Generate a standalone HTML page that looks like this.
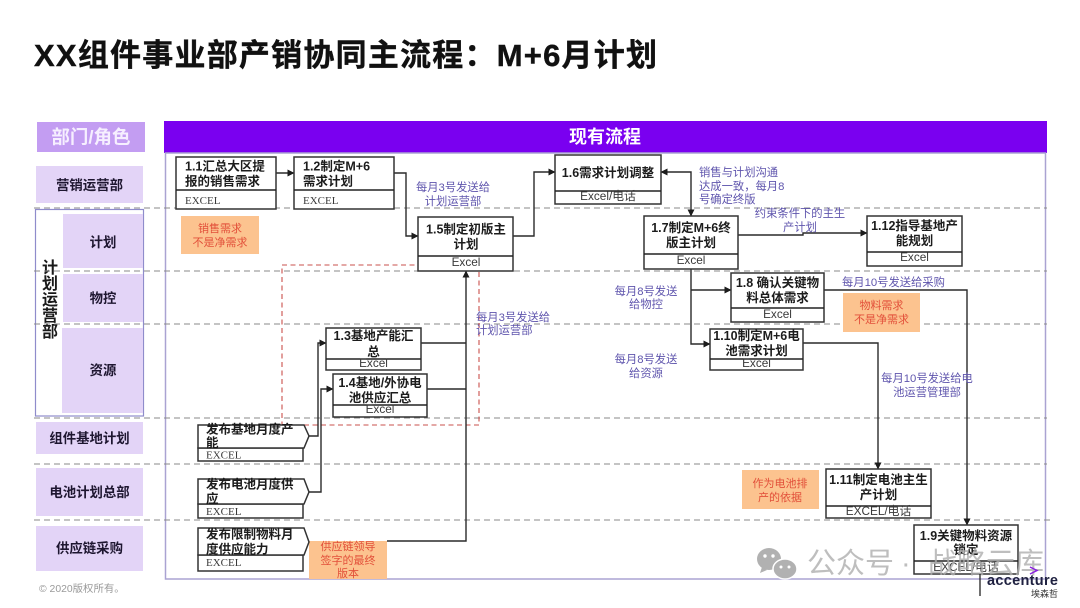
<!DOCTYPE html>
<html lang="zh"><head><meta charset="utf-8"><title>XX组件事业部产销协同主流程</title>
<style>
html,body{margin:0;padding:0;background:#fff;width:1080px;height:608px;overflow:hidden}
svg{display:block;filter:blur(.3px)}
text{font-family:"Liberation Sans","Noto Sans CJK SC",sans-serif}
.t{font-size:12.5px;font-weight:700;fill:#1c1c1c;text-anchor:middle}
.l{font-size:12.5px;font-weight:700;fill:#1c1c1c}
.e{font-size:11.8px;fill:#3a3a3a;text-anchor:middle}
.s{font-size:11px;fill:#3a3a3a;font-family:"Liberation Serif","Noto Sans CJK SC",serif}
.a{font-size:11.3px;fill:#5f55ad;text-anchor:middle}
.al{font-size:11.3px;fill:#5f55ad}
.r{font-size:11px;fill:#e2503a;text-anchor:middle}
.d{font-size:13.4px;font-weight:700;fill:#1e1630;text-anchor:middle}
.b{fill:#fff;stroke:#333;stroke-width:1.5}
.dv{stroke:#222;stroke-width:1.5}
.c{fill:none;stroke:#2a2a2a;stroke-width:1.4}
.dash{stroke:#8a8a8a;stroke-width:1;stroke-dasharray:6 4}
.n{fill:#fcc38f}
.p{fill:#e3d4f7}
.w{font-size:29px;fill:#aeaeae}
</style></head><body>
<svg width="1080" height="608" viewBox="0 0 1080 608" xmlns="http://www.w3.org/2000/svg">
<defs><marker id="m" markerWidth="8" markerHeight="8" refX="6.5" refY="3.5" orient="auto-start-reverse" markerUnits="userSpaceOnUse"><path d="M0 0L7 3.500L0 7z" fill="#1c1c1c"/></marker></defs>

<text x="34" y="66" font-size="31" font-weight="700" fill="#111" stroke="#111" stroke-width=".4" textLength="623" lengthAdjust="spacing">XX组件事业部产销协同主流程：M+6月计划</text>

<!-- headers -->
<rect x="37" y="122" width="108" height="30" fill="#c39df2"/>
<text x="91" y="143.500" font-size="18.500" font-weight="700" fill="#f6efff" text-anchor="middle">部门/角色</text>
<rect x="164" y="121" width="883" height="32" fill="#7a00f0"/>
<text x="605" y="143" font-size="18" font-weight="700" fill="#fff" text-anchor="middle">现有流程</text>

<!-- main frame -->
<rect x="165.500" y="153" width="880" height="426" fill="none" stroke="#aaa3d2" stroke-width="1.500"/>

<!-- dept -->
<rect x="36" y="166" width="107" height="37" class="p"/>
<rect x="35.500" y="209.500" width="108" height="206.500" fill="none" stroke="#8f8ccb" stroke-width="1.200"/>
<rect x="63" y="214" width="80" height="54" class="p"/>
<rect x="63" y="274" width="80" height="48" class="p"/>
<rect x="62" y="328" width="81" height="85" class="p"/>
<rect x="36" y="422" width="107" height="32" class="p"/>
<rect x="36" y="468" width="107" height="48" class="p"/>
<rect x="36" y="526" width="107" height="45" class="p"/>
<text class="d" x="89.500" y="190">营销运营部</text>
<text class="d" x="103" y="247">计划</text>
<text class="d" x="103" y="303">物控</text>
<text class="d" x="103" y="375">资源</text>
<text class="d" x="89.500" y="443">组件基地计划</text>
<text class="d" x="89.500" y="497">电池计划总部</text>
<text class="d" x="89.500" y="553">供应链采购</text>
<g font-size="16" font-weight="700" fill="#1a1a1a" text-anchor="middle">
<text x="50" y="273">计</text><text x="50" y="289">划</text><text x="50" y="305">运</text><text x="50" y="321">营</text><text x="50" y="337">部</text>
</g>

<!-- dashed lanes -->
<line class="dash" x1="34" x2="1047" y1="208" y2="208"/>
<line class="dash" x1="34" x2="1047" y1="271" y2="271"/>
<line class="dash" x1="34" x2="1047" y1="324" y2="324"/>
<line class="dash" x1="34" x2="1047" y1="418" y2="418"/>
<line class="dash" x1="34" x2="1047" y1="464" y2="464"/>
<line class="dash" x1="34" x2="1050" y1="520" y2="520"/>

<!-- red dashed -->
<rect x="282" y="265" width="197" height="160" fill="none" stroke="#c9504c" stroke-width="1.100" stroke-dasharray="5 3.500"/>

<!-- orange notes -->
<rect class="n" x="181" y="216" width="78" height="38"/>
<rect class="n" x="843" y="293" width="77" height="39"/>
<rect class="n" x="742" y="470" width="77" height="39"/>
<rect class="n" x="309" y="541" width="78" height="38"/>
<text class="r" x="220" y="232">销售需求</text><text class="r" x="220" y="246">不是净需求</text>
<text class="r" x="881.500" y="309">物料需求</text><text class="r" x="881.500" y="323">不是净需求</text>
<text class="r" x="780" y="487">作为电池排</text><text class="r" x="780" y="501">产的依据</text>
<text class="r" x="348" y="550">供应链领导</text><text class="r" x="348" y="564">签字的最终</text><text class="r" x="348" y="577">版本</text>

<!-- connectors -->
<path class="c" d="M276 173H294" marker-end="url(#m)"/>
<path class="c" d="M394 173H406V236H418" marker-end="url(#m)"/>
<path class="c" d="M513 236H534V172H555" marker-end="url(#m)"/>
<path class="c" d="M661 172H691V216" marker-start="url(#m)" marker-end="url(#m)"/>
<path class="c" d="M738 235H803V233H867" marker-end="url(#m)"/>
<path class="c" d="M691 269V344H710" marker-end="url(#m)"/>
<path class="c" d="M691 290H731" marker-end="url(#m)"/>
<path class="c" d="M824 290H967V525" marker-end="url(#m)"/>
<path class="c" d="M803 343H878V469" marker-end="url(#m)"/>
<path class="c" d="M421 343H466"/>
<path class="c" d="M427 389H466"/>
<path class="c" d="M387 541H466V271" marker-end="url(#m)"/>
<path class="c" d="M309 436H318V343H326" marker-end="url(#m)"/>
<path class="c" d="M309 492H321V389H333" marker-end="url(#m)"/>

<!-- boxes -->
<rect class="b" x="176" y="157" width="100" height="52"/><line class="dv" x1="176" x2="276" y1="190" y2="190"/>
<text class="l" x="185" y="170.500">1.1汇总大区提</text><text class="l" x="185" y="185.500">报的销售需求</text><text class="s" x="185" y="204">EXCEL</text>

<rect class="b" x="294" y="157" width="100" height="52"/><line class="dv" x1="294" x2="394" y1="190" y2="190"/>
<text class="l" x="303" y="170.500">1.2制定M+6</text><text class="l" x="303" y="185.500">需求计划</text><text class="s" x="303" y="204">EXCEL</text>

<rect class="b" x="418" y="217" width="95" height="54"/><line class="dv" x1="418" x2="513" y1="256" y2="256"/>
<text class="t" x="466" y="233.500">1.5制定初版主</text><text class="t" x="466" y="248.500">计划</text><text class="e" x="466" y="266">Excel</text>

<rect class="b" x="555" y="155" width="106" height="49"/><line class="dv" x1="555" x2="661" y1="191" y2="191"/>
<text class="t" x="608" y="177">1.6需求计划调整</text><text class="e" x="608" y="200">Excel/电话</text>

<rect class="b" x="644" y="216" width="94" height="53"/><line class="dv" x1="644" x2="738" y1="254" y2="254"/>
<text class="t" x="691" y="232">1.7制定M+6终</text><text class="t" x="691" y="247">版主计划</text><text class="e" x="691" y="264">Excel</text>

<rect class="b" x="867" y="216" width="95" height="50"/><line class="dv" x1="867" x2="962" y1="252" y2="252"/>
<text class="t" x="914.500" y="230">1.12指导基地产</text><text class="t" x="914.500" y="245">能规划</text><text class="e" x="914.500" y="261">Excel</text>

<rect class="b" x="731" y="273" width="93" height="49"/><line class="dv" x1="731" x2="824" y1="308" y2="308"/>
<text class="t" x="777.500" y="287">1.8 确认关键物</text><text class="t" x="777.500" y="302">料总体需求</text><text class="e" x="777.500" y="318">Excel</text>

<rect class="b" x="710" y="329" width="93" height="41"/><line class="dv" x1="710" x2="803" y1="359" y2="359"/>
<text class="t" x="756.500" y="340">1.10制定M+6电</text><text class="t" x="756.500" y="355">池需求计划</text><text class="e" x="756.500" y="367">Excel</text>

<rect class="b" x="326" y="328" width="95" height="42"/><line class="dv" x1="326" x2="421" y1="359" y2="359"/>
<text class="t" x="373.500" y="340">1.3基地产能汇</text><text class="t" x="373.500" y="356">总</text><text class="e" x="373.500" y="367">Excel</text>

<rect class="b" x="333" y="374" width="94" height="43"/><line class="dv" x1="333" x2="427" y1="405" y2="405"/>
<text class="t" x="380" y="387">1.4基地/外协电</text><text class="t" x="380" y="402">池供应汇总</text><text class="e" x="380" y="413">Excel</text>

<rect class="b" x="826" y="469" width="105" height="49"/><line class="dv" x1="826" x2="931" y1="506" y2="506"/>
<text class="t" x="878.500" y="484">1.11制定电池主生</text><text class="t" x="878.500" y="499">产计划</text><text class="e" x="878.500" y="515">EXCEL/电话</text>

<!-- pentagons -->
<rect class="b" x="198" y="448" width="105" height="13"/>
<path class="b" d="M198 448V425H304L309 436L304 448z"/>
<text class="l" x="206" y="433.500">发布基地月度产</text><text class="l" x="206" y="447">能</text><text class="s" x="206" y="458.500">EXCEL</text>
<rect class="b" x="198" y="504" width="105" height="14"/>
<path class="b" d="M198 504V479H304L309 492L304 504z"/>
<text class="l" x="206" y="488.500">发布电池月度供</text><text class="l" x="206" y="503">应</text><text class="s" x="206" y="515">EXCEL</text>
<rect class="b" x="198" y="555" width="105" height="16"/>
<path class="b" d="M198 555V528H304L309 542L304 555z"/>
<text class="l" x="206" y="538.500">发布限制物料月</text><text class="l" x="206" y="553.500">度供应能力</text><text class="s" x="206" y="566">EXCEL</text>

<!-- annotations -->
<text class="a" x="453" y="191">每月3号发送给</text><text class="a" x="453" y="205">计划运营部</text>
<text class="al" x="699" y="176">销售与计划沟通</text><text class="al" x="699" y="190">达成一致，每月8</text><text class="al" x="699" y="203">号确定终版</text>
<text class="a" x="800" y="217">约束条件下的主生</text><text class="a" x="800" y="231">产计划</text>
<text class="al" x="842" y="286">每月10号发送给采购</text>
<text class="al" x="476" y="321">每月3号发送给</text><text class="al" x="476" y="334">计划运营部</text>
<text class="a" x="646" y="295">每月8号发送</text><text class="a" x="646" y="308">给物控</text>
<text class="a" x="646" y="363">每月8号发送</text><text class="a" x="646" y="377">给资源</text>
<text class="a" x="927" y="382">每月10号发送给电</text><text class="a" x="927" y="396">池运营管理部</text>

<!-- 1.9 box -->
<rect class="b" x="914" y="525" width="104" height="49"/><line class="dv" x1="914" x2="1018" y1="561" y2="561"/>
<text class="t" x="966" y="540">1.9关键物料资源</text><text class="t" x="966" y="554">锁定</text><text class="e" x="966" y="571">EXCEL/电话</text>

<!-- footer -->
<text x="39" y="592" font-size="10.400" fill="#9a9a9a">© 2020版权所有。</text>

<!-- watermark -->
<g fill="#a9a9a9" opacity=".9">
<ellipse cx="769" cy="559" rx="12" ry="11"/><path d="M762 567l-2 6 7-3z"/>
<ellipse cx="785" cy="569" rx="12" ry="10" stroke="#fff" stroke-width="1.500"/>
</g>
<g fill="#fff"><circle cx="765" cy="556" r="1.700"/><circle cx="773" cy="556" r="1.700"/><circle cx="781" cy="567" r="1.500"/><circle cx="789" cy="567" r="1.500"/></g>
<g opacity=".8">
<text class="w" x="807" y="573">公众号</text>
<text class="w" x="901" y="573">·</text>
<text class="w" x="928" y="573">战略云库</text>
</g>

<!-- accenture -->
<line x1="980" x2="980" y1="574" y2="596" stroke="#222" stroke-width="1.300"/>
<path d="M1030 567l7 3.500-7 3.500" fill="none" stroke="#8a1fe0" stroke-width="1.500"/>
<text x="987" y="585" font-size="14.500" font-weight="700" fill="#1f2140" textLength="71">accenture</text>
<text x="1031" y="597" font-size="9" fill="#333">埃森哲</text>
</svg>
</body></html>
